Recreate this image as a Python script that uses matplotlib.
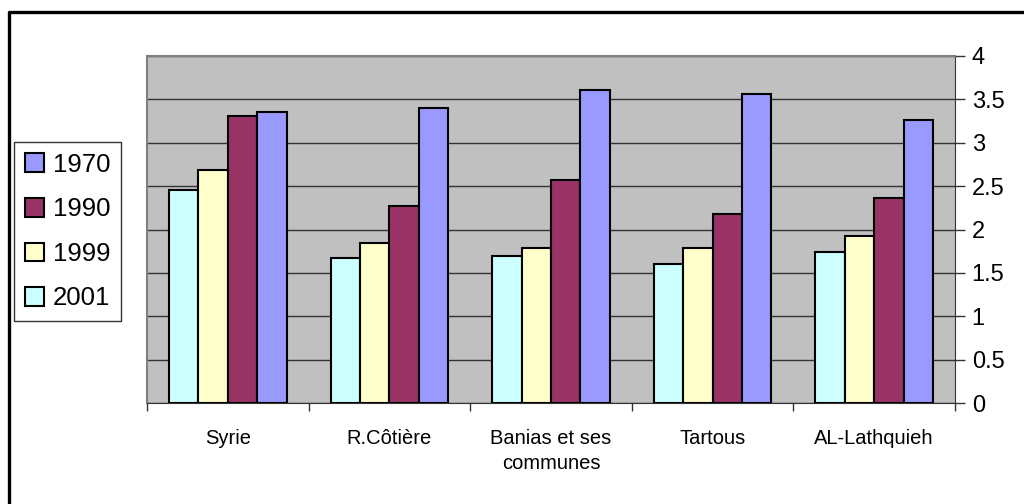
import matplotlib.pyplot as plt
import numpy as np
from matplotlib.lines import Line2D

plt.rcParams['font.family'] = ['Liberation Sans', 'DejaVu Sans']

categories = ['Syrie', 'R.Côtière', 'Banias et ses\ncommunes', 'Tartous', 'AL-Lathquieh']
years = ['2001', '1999', '1990', '1970']
v2001 = [2.45, 1.67, 1.69, 1.60, 1.74]
v1999 = [2.69, 1.85, 1.79, 1.79, 1.93]
v1990 = [3.31, 2.27, 2.57, 2.18, 2.36]
v1970 = [3.36, 3.40, 3.61, 3.56, 3.26]
series = [v2001, v1999, v1990, v1970]
colors = ['#CCFFFF', '#FFFFCC', '#993366', '#9999FF']

W, H = 1024, 504
fig = plt.figure(figsize=(W / 100, H / 100), dpi=100)
# chart border (only left and top edges fall inside the picture)
fig.lines.append(Line2D([9 / W, 9 / W, 1.0], [0.0, 1 - 12 / H, 1 - 12 / H],
                        transform=fig.transFigure, color='black', linewidth=2.4))

ax = fig.add_axes([147 / W, (H - 403) / H, 808 / W, 347 / H])
ax.set_facecolor('#C0C0C0')

n = len(categories)
bw = 1 / 5.5
x = np.arange(n)
for i, (vals, c, y) in enumerate(zip(series, colors, years)):
    ax.bar(x - 2 * bw + (i + 0.5) * bw, vals, width=bw, color=c,
           edgecolor='black', linewidth=1.5, label=y, zorder=3)

ax.set_xlim(-0.5, n - 0.5)
ax.set_ylim(0, 4)
ax.set_yticks(np.arange(0, 4.01, 0.5))
ax.set_yticklabels(['0', '0.5', '1', '1.5', '2', '2.5', '3', '3.5', '4'])
ax.yaxis.tick_right()
ax.grid(axis='y', color='#333333', linewidth=1, zorder=1)
ax.tick_params(axis='y', labelsize=17, length=7, width=1, color='#333333', pad=5)

ax.set_xticks(x)
ax.set_xticklabels(categories, fontsize=14.5, linespacing=1.35)
ax.set_xticks(np.arange(-0.5, n, 1), minor=True)
ax.tick_params(axis='x', which='major', length=0, pad=19)
ax.tick_params(axis='x', which='minor', length=6, width=1, color='#333333')

for s in ['left', 'top']:
    ax.spines[s].set_color('#808080')
    ax.spines[s].set_linewidth(1.5)
ax.spines['right'].set_color('#333333')
ax.spines['bottom'].set_color('#333333')

handles, labels = ax.get_legend_handles_labels()
leg = fig.legend(handles[::-1], labels[::-1], loc='upper left',
                 bbox_to_anchor=(14 / W, 1 - 142 / H), fontsize=18.5,
                 frameon=True, fancybox=False, edgecolor='black',
                 handlelength=0.74, handleheight=0.74, handletextpad=0.35,
                 labelspacing=0.8, borderpad=0.42, borderaxespad=0)
leg.get_frame().set_linewidth(1)

fig.savefig('out.png', dpi=100)
